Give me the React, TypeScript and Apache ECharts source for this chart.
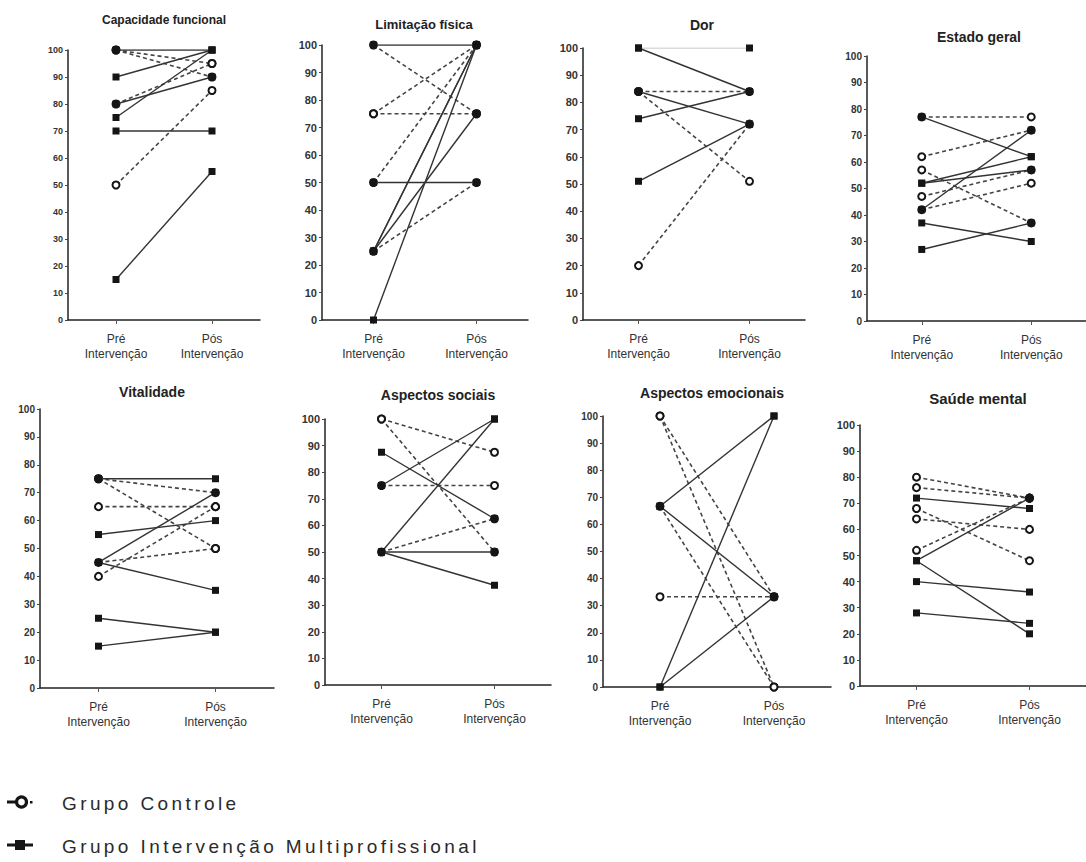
import React, { useEffect, useRef } from "react";
import * as echarts from "echarts";

// ---------- DATA ----------
const categories = ["Pré\nIntervenção", "Pós\nIntervenção"];
const panelTitles = [
  "Capacidade funcional",
  "Limitação física",
  "Dor",
  "Estado geral",
  "Vitalidade",
  "Aspectos sociais",
  "Aspectos emocionais",
  "Saúde mental",
];
const legendLabels = ["Grupo Controle", "Grupo Intervenção Multiprofissional"];

// each pair: [Pré, Pós]
const capacidadeIntervencao = [[100, 100], [90, 100], [80, 90], [75, 100], [70, 70], [15, 55]];
const capacidadeControle = [[100, 95], [100, 90], [80, 95], [50, 85]];

const limitacaoIntervencao = [[100, 100], [50, 50], [25, 100], [25, 100], [25, 75], [0, 100]];
const limitacaoControle = [[100, 75], [75, 100], [75, 75], [50, 100], [25, 50]];

const dorIntervencao = [[100, 84], [84, 72], [74, 84], [51, 72]];
const dorIntervencaoClaro = [[100, 100]];
const dorControle = [[84, 84], [84, 51], [20, 72]];

const estadoIntervencao = [[77, 62], [52, 62], [52, 57], [42, 72], [37, 30], [27, 37]];
const estadoControle = [[77, 77], [62, 72], [57, 37], [47, 57], [42, 52]];

const vitalidadeIntervencao = [[75, 75], [55, 60], [45, 70], [45, 35], [25, 20], [15, 20]];
const vitalidadeControle = [[75, 70], [75, 50], [65, 65], [45, 50], [40, 65]];

const sociaisIntervencao = [[87.5, 62.5], [75, 100], [50, 100], [50, 50], [50, 37.5]];
const sociaisControle = [[100, 87.5], [100, 50], [75, 75], [50, 62.5]];

const emocionaisIntervencao = [[66.7, 100], [66.7, 33.3], [0, 100], [0, 33.3]];
const emocionaisControle = [[100, 33.3], [100, 0], [66.7, 0], [33.3, 33.3]];

const mentalIntervencao = [[72, 68], [48, 72], [48, 20], [40, 36], [28, 24]];
const mentalControle = [[80, 72], [76, 72], [68, 48], [64, 60], [52, 72]];

const panelIntervencao = [
  capacidadeIntervencao,
  limitacaoIntervencao,
  dorIntervencao,
  estadoIntervencao,
  vitalidadeIntervencao,
  sociaisIntervencao,
  emocionaisIntervencao,
  mentalIntervencao,
];
const panelControle = [
  capacidadeControle,
  limitacaoControle,
  dorControle,
  estadoControle,
  vitalidadeControle,
  sociaisControle,
  emocionaisControle,
  mentalControle,
];

// ---------- LAYOUT ----------
const FONT = '"Liberation Sans", Arial, Helvetica, sans-serif';
const layouts = [
  { left: 68, top: 50, width: 192, height: 270, yFont: 9, tx: 164, ty: 20, tFont: 12 },
  { left: 322, top: 45, width: 206, height: 275, yFont: 11, tx: 424, ty: 24, tFont: 13 },
  { left: 583, top: 48, width: 222, height: 272, yFont: 11, tx: 702, ty: 25, tFont: 14 },
  { left: 867, top: 56, width: 226, height: 265, yFont: 10, tx: 979, ty: 37, tFont: 14 },
  { left: 40, top: 409, width: 234, height: 279, yFont: 10, tx: 152, ty: 392, tFont: 14 },
  { left: 325, top: 419, width: 226, height: 266, yFont: 11, tx: 438, ty: 395, tFont: 14 },
  { left: 603, top: 416, width: 228, height: 271, yFont: 10, tx: 712, ty: 393, tFont: 14 },
  { left: 860, top: 425, width: 236, height: 261, yFont: 11, tx: 978, ty: 398, tFont: 15 },
];

const INK = "#151515";

function buildOption() {
  const series: any[] = [];
  layouts.forEach((_, i) => {
    panelControle[i].forEach((pair) => {
      series.push({
        type: "line",
        xAxisIndex: i,
        yAxisIndex: i,
        data: pair,
        silent: true,
        z: 2,
        symbol: "circle",
        symbolSize: 7,
        itemStyle: { color: "#ffffff", borderColor: INK, borderWidth: 2 },
        lineStyle: { color: "#444", width: 1.6, type: [4, 3] },
      });
    });
    panelIntervencao[i].forEach((pair) => {
      series.push({
        type: "line",
        xAxisIndex: i,
        yAxisIndex: i,
        data: pair,
        silent: true,
        z: 3,
        symbol: "rect",
        symbolSize: 7,
        itemStyle: { color: INK },
        lineStyle: { color: "#333", width: 1.4, type: "solid" },
      });
    });
    if (i === 2) {
      dorIntervencaoClaro.forEach((pair) => {
        series.push({
          type: "line",
          xAxisIndex: i,
          yAxisIndex: i,
          data: pair,
          silent: true,
          z: 1,
          symbol: "rect",
          symbolSize: 7,
          itemStyle: { color: INK },
          lineStyle: { color: "#b5b5b5", width: 1, type: "solid" },
        });
      });
    }
  });

  const titles = layouts.map((l, i) => ({
    type: "text",
    x: l.tx,
    y: l.ty,
    silent: true,
    style: {
      text: panelTitles[i],
      fill: "#222",
      font: `bold ${l.tFont}px ${FONT}`,
      align: "center",
      verticalAlign: "middle",
      textAlign: "center",
      textVerticalAlign: "middle",
    },
  }));

  const legend: any[] = [
    // Controle icon
    { type: "line", silent: true, shape: { x1: 7, y1: 802, x2: 15, y2: 802 }, style: { stroke: INK, lineWidth: 3 } },
    { type: "circle", silent: true, shape: { cx: 21.5, cy: 802, r: 5 }, style: { fill: "#fff", stroke: INK, lineWidth: 3.2 } },
    { type: "rect", silent: true, shape: { x: 30, y: 801, width: 2.5, height: 2.5 }, style: { fill: INK } },
    {
      type: "text",
      x: 62,
      y: 803,
      silent: true,
      style: {
        text: legendLabels[0],
        fill: "#2a2a2a",
        font: `19px ${FONT}`,
        align: "left",
        verticalAlign: "middle",
        textAlign: "left",
        textVerticalAlign: "middle",
      },
    },
    // Intervenção icon
    { type: "line", silent: true, shape: { x1: 7, y1: 845, x2: 33, y2: 845 }, style: { stroke: INK, lineWidth: 3 } },
    { type: "rect", silent: true, shape: { x: 15, y: 840, width: 10, height: 10 }, style: { fill: INK } },
    {
      type: "text",
      x: 62,
      y: 846,
      silent: true,
      style: {
        text: legendLabels[1],
        fill: "#2a2a2a",
        font: `19px ${FONT}`,
        align: "left",
        verticalAlign: "middle",
        textAlign: "left",
        textVerticalAlign: "middle",
      },
    },
  ];

  return {
    animation: false,
    backgroundColor: "#ffffff",
    textStyle: { fontFamily: FONT },
    grid: layouts.map((l) => ({ left: l.left, top: l.top, width: l.width, height: l.height, containLabel: false })),
    xAxis: layouts.map((_, i) => ({
      type: "category",
      gridIndex: i,
      data: categories,
      boundaryGap: true,
      axisLine: { show: true, onZero: false, lineStyle: { color: "#222", width: 1.5 } },
      axisTick: { show: true, alignWithLabel: true, length: 4, lineStyle: { color: "#555", width: 1 } },
      axisLabel: { fontSize: 12, color: "#333", lineHeight: 15, margin: 11, fontFamily: FONT, interval: 0 },
      splitLine: { show: false },
    })),
    yAxis: layouts.map((l, i) => ({
      type: "value",
      gridIndex: i,
      min: 0,
      max: 100,
      interval: 10,
      axisLine: { show: true, lineStyle: { color: "#222", width: 1.5 } },
      axisTick: { show: true, length: 3, lineStyle: { color: "#444", width: 1 } },
      axisLabel: { fontSize: l.yFont, fontWeight: "bold", color: "#333", margin: 5, fontFamily: FONT },
      splitLine: { show: false },
    })),
    series,
    graphic: [...titles, ...legend],
  };
}

export default function App() {
  const ref = useRef<HTMLDivElement>(null);
  useEffect(() => {
    if (!ref.current) return;
    const chart = echarts.init(ref.current, undefined, { renderer: "svg" });
    chart.setOption(buildOption() as any);
    return () => {
      chart.dispose();
    };
  }, []);
  return (
    <>
      <style>{`#sf36-chart text[style*="19px"]{letter-spacing:3.4px;}`}</style>
      <div
        id="sf36-chart"
        ref={ref}
        style={{ position: "absolute", left: 0, top: 0, width: 1086, height: 862, background: "#fff" }}
      />
    </>
  );
}
